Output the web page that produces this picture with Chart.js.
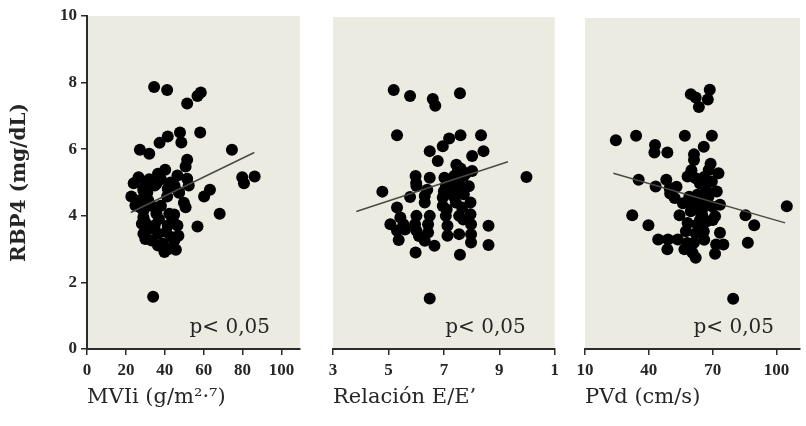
<!DOCTYPE html>
<html>
<head>
<meta charset="utf-8">
<script src="https://cdn.jsdelivr.net/npm/chart.js@4.4.0/dist/chart.umd.min.js"></script>
<style>
  body { margin: 0; background: #fff; }
  .panel { position: absolute; top: 0; height: 426px; }
</style>
</head>
<body>
<div class="panel" style="left:0;width:306px"><canvas id="c1"></canvas></div>
<div class="panel" style="left:306px;width:258px"><canvas id="c2"></canvas></div>
<div class="panel" style="left:560px;width:246px"><canvas id="c3"></canvas></div>
<script>
// MVIi (g/m2.7) vs RBP4
const mviPoints = [
  [34.5, 7.87], [41.2, 7.78], [51.5, 7.37], [56.8, 7.6], [58.5, 7.7],
  [41.5, 6.38], [37.3, 6.19], [47.8, 6.5], [48.5, 6.2], [58.2, 6.5],
  [27.2, 5.98], [32, 5.86], [74.5, 5.98],
  [51.5, 5.68], [50.7, 5.48], [40.2, 5.38], [36.5, 5.26], [46.5, 5.21], [51.5, 5.11], [26.5, 5.16], [24, 4.98],
  [79.8, 5.16], [86.2, 5.18], [80.7, 4.98],
  [63.2, 4.78], [60.2, 4.58], [22.8, 4.58], [29, 4.81], [34.8, 4.91], [41.5, 4.81], [41.2, 4.58], [47.3, 4.69],
  [49.8, 4.39], [50.7, 4.26], [26.5, 4.46], [31.5, 4.46], [27.3, 4.26],
  [68.2, 4.06], [35.7, 4.06], [42.3, 4.06], [44.8, 4.04], [29, 3.96],
  [28.2, 3.76], [34.8, 3.71], [41.5, 3.71], [46.5, 3.71], [56.8, 3.68],
  [29, 3.46], [36.5, 3.46], [43.2, 3.36], [33.2, 3.26], [39, 3.16], [39.8, 2.91], [45.7, 2.98], [34, 1.57],
  [29.9, 4.56], [24.9, 4.31], [29, 4.16], [29.9, 3.81], [40.7, 3.51], [44.9, 3.26], [36.5, 3.11],
  [31, 4.7], [33, 4.3], [38, 4.3], [45, 4.9], [43, 5.0], [38, 5.1], [32, 5.1], [30, 5.0],
  [44, 3.9], [37, 3.9], [32, 3.6], [47, 3.4], [30, 3.3], [42, 3.0],
  [52.3, 4.91], [29, 4.76], [35.7, 4.96], [47.3, 4.71]
];
const mviFit = [[22.5, 4.1], [86, 5.9]];
const mviTicks = [0, 20, 40, 60, 80, 100];
const mviTickLabels = ["0", "20", "40", "60", "80", "100"];

// Relacion E/E' vs RBP4
const eePoints = [
  [5.19, 7.8], [5.78, 7.62], [6.6, 7.53], [6.69, 7.33], [7.58, 7.7],
  [5.31, 6.44], [7.6, 6.44], [8.34, 6.44], [7.19, 6.34], [6.96, 6.11], [8.43, 5.96], [6.49, 5.96], [8.02, 5.81], [6.78, 5.66],
  [7.6, 5.44], [8.02, 5.36], [9.98, 5.18], [5.98, 5.21], [6.49, 5.16], [7.02, 5.16], [7.37, 5.21], [7.72, 5.21],
  [6.01, 4.91], [4.78, 4.74], [5.78, 4.58], [6.31, 4.61], [7.07, 4.91], [7.25, 4.71], [7.55, 4.96], [7.72, 4.66],
  [6.96, 4.56], [7.43, 4.41], [6.31, 4.41], [7.96, 4.41],
  [5.31, 4.26], [6.96, 4.31], [7.66, 4.26], [5.43, 3.96], [6.01, 4.01], [6.49, 4.01], [7.07, 4.01], [7.55, 4.01], [7.96, 4.06],
  [5.07, 3.76], [5.54, 3.76], [5.96, 3.76], [6.43, 3.76], [7.13, 3.71], [7.98, 3.76], [8.61, 3.71],
  [5.31, 3.56], [6.01, 3.56], [6.43, 3.51], [7.13, 3.41], [7.55, 3.46], [7.98, 3.46],
  [5.37, 3.28], [6.31, 3.26], [6.66, 3.11], [7.98, 3.21], [8.61, 3.13], [5.98, 2.91], [7.58, 2.84], [6.49, 1.52],
  [7.2, 5.0], [7.3, 5.1], [7.4, 4.85], [7.15, 4.8], [7.5, 5.35], [7.45, 5.55], [7.8, 5.3], [7.0, 4.75],
  [7.35, 4.6], [6.0, 5.0], [6.4, 4.8], [7.9, 4.9], [7.1, 4.2], [6.1, 3.4], [5.6, 3.6], [7.7, 3.9]
];
const eeFit = [[3.84, 4.14], [9.31, 5.64]];
const eeTicks = [3, 5, 7, 9, 11];
const eeTickLabels = ["3", "5", "7", "9", "1"];

// PVd (cm/s) vs RBP4
const pvdPoints = [
  [59.7, 7.7], [68.6, 7.83], [67.7, 7.54], [63.5, 7.31], [62, 7.6],
  [24.5, 6.31], [34, 6.44], [42.9, 6.16], [42.6, 5.94], [48.7, 5.94], [56.9, 6.44], [69.6, 6.44], [65.8, 6.11], [61.2, 5.88], [61.2, 5.71],
  [35.2, 5.11], [43.2, 4.91], [48.2, 5.11], [49.8, 4.86], [52.1, 4.56], [58.2, 5.21], [62, 5.16], [68.1, 5.41], [72.7, 5.31],
  [65.8, 4.96], [69.6, 5.06], [71.9, 4.76], [62.8, 4.66], [73.4, 4.36], [104.8, 4.31],
  [32.2, 4.04], [39.8, 3.74], [54.4, 4.04], [59.7, 4.16], [65, 4.06], [71.1, 4.01], [85.4, 4.04], [89.5, 3.74],
  [58.2, 3.81], [62.8, 3.76], [67.3, 3.86], [57.4, 3.56], [65.8, 3.56], [73.4, 3.51],
  [44.4, 3.31], [49, 3.31], [53.6, 3.31], [61.2, 3.21], [71.6, 3.16], [75, 3.16], [86.5, 3.21],
  [48.7, 3.01], [56.7, 3.01], [60.5, 2.91], [62, 2.76], [71.1, 2.88], [79.6, 1.52],
  [64, 5.0], [66, 5.2], [67, 4.8], [64, 4.5], [66, 4.3], [61, 4.4], [68, 4.6], [70, 4.3], [63, 4.2],
  [59, 4.6], [56, 4.4], [64, 3.9], [60, 5.4], [50, 4.7], [53, 4.9], [66, 3.3], [62, 3.5], [70, 3.9], [58, 3.2], [69, 5.6]
];
const pvdFit = [[23.3, 5.31], [104, 3.81]];
const pvdTicks = [10, 40, 70, 100];
const pvdTickLabels = ["10", "40", "70", "100"];

const yTicks = [0, 2, 4, 6, 8, 10];

const AXIS_COLOR = "#2b2b2b";
const TEXT_COLOR = "#262626";
const BEIGE = "#ecebe1";

const panelBackground = {
  id: "panelBackground",
  beforeDraw(chart) {
    const { ctx, chartArea: a } = chart;
    ctx.save();
    ctx.fillStyle = BEIGE;
    ctx.fillRect(a.left, a.top, a.right - a.left, a.bottom - a.top);
    ctx.restore();
  },
};

const pLabel = {
  id: "pLabel",
  afterDatasetsDraw(chart, args, opts) {
    const { ctx, chartArea: a } = chart;
    ctx.save();
    ctx.font = "20px 'DejaVu Serif'";
    ctx.fillStyle = TEXT_COLOR;
    ctx.textAlign = "right";
    ctx.textBaseline = "alphabetic";
    ctx.fillText(opts.text, a.right - opts.right, a.bottom - 16);
    ctx.restore();
  },
};

function toXY(list) {
  return list.map(([x, y]) => ({ x, y }));
}

function makePanel(id, cfg) {
  const xAxis = {
    type: "linear",
    min: cfg.xMin,
    max: cfg.xMax,
    afterBuildTicks: (axis) => {
      axis.ticks = cfg.ticks.map((v) => ({ value: v }));
    },
    afterFit: (scale) => {
      scale.height = 77;
    },
    grid: { drawOnChartArea: false, drawTicks: true, tickLength: 6, color: AXIS_COLOR, lineWidth: 1.5 },
    border: { display: true, color: AXIS_COLOR, width: 2 },
    ticks: {
      padding: 5,
      maxRotation: 0,
      autoSkip: false,
      color: TEXT_COLOR,
      font: { family: "'Liberation Serif'", size: 17, weight: "bold" },
      callback: (value, index) => cfg.tickLabels[index],
    },
    title: {
      display: true,
      text: cfg.title,
      align: "start",
      color: TEXT_COLOR,
      font: { family: "'DejaVu Serif'", size: 21 },
      padding: { top: 0, bottom: 16 },
    },
  };

  const yAxis = {
    type: "linear",
    min: 0,
    max: 10,
    display: cfg.showY,
    afterBuildTicks: (axis) => {
      axis.ticks = yTicks.map((v) => ({ value: v }));
    },
    afterFit: (scale) => {
      if (cfg.showY) scale.width = 87;
    },
    grid: { drawOnChartArea: false, drawTicks: true, tickLength: 6, color: AXIS_COLOR, lineWidth: 1.5 },
    border: { display: true, color: AXIS_COLOR, width: 2 },
    ticks: {
      padding: 4,
      color: TEXT_COLOR,
      font: { family: "'Liberation Serif'", size: 17, weight: "bold" },
    },
    title: {
      display: true,
      text: "RBP4 (mg/dL)",
      color: TEXT_COLOR,
      font: { family: "'DejaVu Serif'", size: 20, weight: "bold" },
      padding: { top: 8, bottom: 0 },
    },
  };

  return new Chart(document.getElementById(id), {
    type: "scatter",
    data: {
      datasets: [
        {
          type: "line",
          data: toXY(cfg.fit),
          borderColor: "#4a4a44",
          borderWidth: 1.5,
          pointRadius: 0,
          fill: false,
          order: 0,
        },
        {
          data: toXY(cfg.points),
          backgroundColor: "#000",
          borderColor: "#000",
          borderWidth: 0,
          pointRadius: 6,
          pointHoverRadius: 6,
          order: 1,
        },
      ],
    },
    options: {
      responsive: true,
      maintainAspectRatio: false,
      animation: false,
      layout: { padding: cfg.padding },
      plugins: {
        legend: { display: false },
        tooltip: { enabled: false },
        pLabel: { text: "p< 0,05", right: cfg.pRight },
      },
      scales: { x: xAxis, y: yAxis },
    },
    plugins: [panelBackground, pLabel],
  });
}

makePanel("c1", {
  points: mviPoints, fit: mviFit, ticks: mviTicks, tickLabels: mviTickLabels,
  xMin: 0, xMax: 109.5, title: "MVIi (g/m²·⁷)", showY: true,
  padding: { left: 0, right: 0, top: 16, bottom: 0 }, pRight: 30,
});
makePanel("c2", {
  points: eePoints, fit: eeFit, ticks: eeTicks, tickLabels: eeTickLabels,
  xMin: 3, xMax: 11, title: "Relación E/E’", showY: false,
  padding: { left: 27, right: 5, top: 17, bottom: 0 }, pRight: 29,
});
makePanel("c3", {
  points: pvdPoints, fit: pvdFit, ticks: pvdTicks, tickLabels: pvdTickLabels,
  xMin: 10, xMax: 111, title: "PVd (cm/s)", showY: false,
  padding: { left: 25, right: 0, top: 18, bottom: 0 }, pRight: 26,
});
</script>
</body>
</html>
